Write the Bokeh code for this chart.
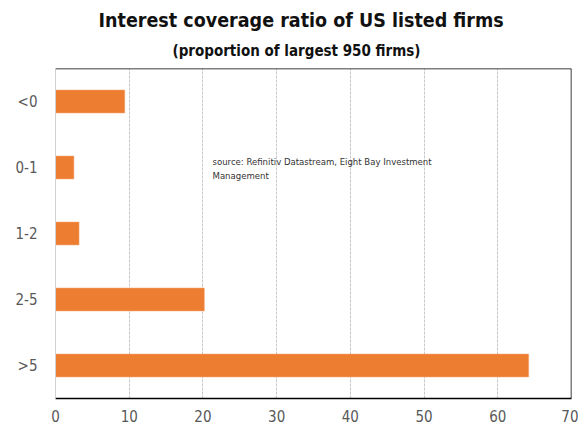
from bokeh.plotting import figure
from bokeh.models import FactorRange, Range1d, Title, Label, Span, FixedTicker
from bokeh.embed import file_html
from bokeh.resources import INLINE

categories = ["<0", "0-1", "1-2", "2-5", ">5"]
values = [9.4, 2.5, 3.2, 20.2, 64.2]
x_ticks = [0, 10, 20, 30, 40, 50, 60, 70]

NARROW = "'Liberation Sans Narrow', 'Arial Narrow', 'DejaVu Sans Condensed', sans-serif"

p = figure(width=578, height=424, output_backend="svg", toolbar_location=None,
           y_range=FactorRange(factors=list(reversed(categories))),
           x_range=Range1d(0, 70),
           min_border_left=55, min_border_right=7, min_border_top=68, min_border_bottom=25)

p.hbar(y=categories, right=values, left=0, height=0.35, color="#ED7D31", line_color="#F4B183", line_width=0.5)

p.title.text = "Interest coverage ratio of US listed firms"
p.title.align = "left"
p.title.offset = 43
p.title.text_font = NARROW
p.title.text_font_size = "19.5px"
p.title.text_font_style = "bold"
p.title.text_color = "#111111"
p.title.standoff = 0
p.add_layout(Title(text="(proportion of largest 950 firms)", align="left", offset=117,
                   text_font=NARROW, text_font_size="15px", text_font_style="bold",
                   text_color="#111111", standoff=17), "above")

p.xaxis.ticker = FixedTicker(ticks=x_ticks)
p.xaxis.major_tick_line_color = None
p.xaxis.minor_tick_line_color = None
p.xaxis.axis_line_color = "black"
p.xaxis.axis_line_width = 1.5
p.xaxis.major_label_text_font = NARROW
p.xaxis.major_label_text_font_size = "15px"
p.xaxis.major_label_text_color = "#595959"
p.xaxis.major_label_standoff = 5

p.yaxis.major_tick_line_color = None
p.yaxis.minor_tick_line_color = None
p.yaxis.axis_line_color = "#d0d0d0"
p.yaxis.major_label_text_font = NARROW
p.yaxis.major_label_text_font_size = "15px"
p.yaxis.major_label_text_color = "#595959"
p.yaxis.major_label_standoff = 12

p.xgrid.grid_line_color = "#c8c8c8"
p.xgrid.grid_line_dash = "3 1"
p.ygrid.grid_line_color = None
p.outline_line_color = None

p.add_layout(Span(location=70, dimension="height", line_color="black", line_width=1.5))
p.add_layout(Span(location=5, dimension="width", line_color="black", line_width=1.5))

p.add_layout(Label(x=21.3, y=3.68, text="source:  Refinitiv Datastream,  Eight Bay Investment\nManagement",
                   text_font=NARROW, text_font_size="9.5px", text_color="#333333",
                   text_baseline="top", text_line_height=1.3))

open("out.html", "w").write(file_html(p, INLINE))
